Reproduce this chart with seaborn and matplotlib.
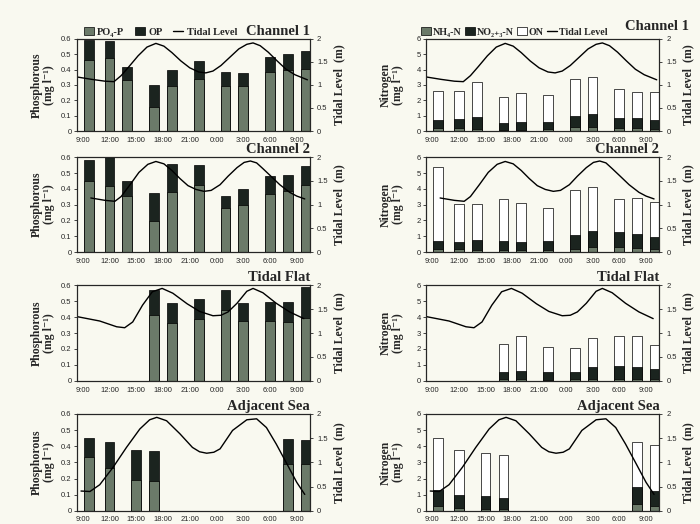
import numpy as np
import matplotlib
matplotlib.use("Agg")
import matplotlib.pyplot as plt
import seaborn as sns
from matplotlib.patches import Patch
from matplotlib.lines import Line2D
from matplotlib.font_manager import FontProperties

# ---------------- data ----------------
# hours: 9 = 09:00 on day 1, 33 = 09:00 on day 2
tick_hours = [9, 12, 15, 18, 21, 24, 27, 30, 33]
tick_labels = ["9:00", "12:00", "15:00", "18:00", "21:00", "0:00", "3:00", "6:00", "9:00"]

hours_channel = [9.7, 12, 14, 17, 19, 22, 25, 27, 30, 32, 34]
hours_flat = [17, 19, 22, 25, 27, 30, 32, 34]
hours_sea = [9.7, 12, 15, 17, 32, 34]

# Phosphorous (mg/l)
ch1_po4 = [0.465, 0.475, 0.33, 0.153, 0.29, 0.34, 0.29, 0.29, 0.385, 0.40, 0.405]
ch1_op = [0.125, 0.11, 0.085, 0.144, 0.11, 0.115, 0.095, 0.088, 0.095, 0.10, 0.115]
ch2_po4 = [0.45, 0.42, 0.355, 0.196, 0.379, 0.421, 0.277, 0.298, 0.368, 0.387, 0.421]
ch2_op = [0.135, 0.18, 0.095, 0.176, 0.178, 0.128, 0.08, 0.102, 0.112, 0.103, 0.126]
flat_po4 = [0.41, 0.36, 0.385, 0.443, 0.375, 0.375, 0.369, 0.395]
flat_op = [0.156, 0.128, 0.127, 0.127, 0.113, 0.119, 0.125, 0.191]
sea_po4 = [0.333, 0.263, 0.194, 0.185, 0.288, 0.29]
sea_op = [0.12, 0.162, 0.185, 0.183, 0.158, 0.146]

# Nitrogen (mg/l)
ch1_nh4 = [0.17, 0.17, 0.13, 0.06, 0.08, 0.10, 0.27, 0.25, 0.17, 0.17, 0.10]
ch1_no23 = [0.52, 0.59, 0.77, 0.47, 0.51, 0.49, 0.73, 0.85, 0.67, 0.67, 0.64]
ch1_on = [1.94, 1.83, 2.30, 1.68, 1.85, 1.75, 2.37, 2.40, 1.90, 1.71, 1.81]
ch2_nh4 = [0.21, 0.17, 0.15, 0.10, 0.10, 0.10, 0.21, 0.32, 0.32, 0.27, 0.21]
ch2_no23 = [0.46, 0.46, 0.59, 0.57, 0.53, 0.59, 0.88, 0.98, 0.94, 0.87, 0.72]
ch2_on = [4.70, 2.42, 2.31, 2.66, 2.49, 2.11, 2.85, 2.80, 2.11, 2.31, 2.23]
flat_nh4 = [0.10, 0.10, 0.06, 0.15, 0.15, 0.10, 0.10, 0.15]
flat_no23 = [0.43, 0.54, 0.51, 0.38, 0.70, 0.86, 0.79, 0.59]
flat_on = [1.77, 2.19, 1.56, 1.56, 1.81, 1.87, 1.94, 1.54]
sea_nh4 = [0.31, 0.15, 0.10, 0.10, 0.40, 0.31]
sea_no23 = [0.98, 0.83, 0.82, 0.71, 1.10, 0.92]
sea_on = [3.23, 2.81, 2.66, 2.63, 2.77, 2.83]

# Tidal level (m)
ch1_tide_h = [8.4, 10.0, 11.5, 12.5, 13.3, 14.2, 15.2, 16.2, 17.2, 18.1, 19.0, 20.0, 21.0,
              22.0, 22.8, 23.6, 24.5, 25.5, 26.5, 27.4, 28.1, 28.9, 29.8, 30.8, 31.8, 32.8, 34.2]
ch1_tide = [1.17, 1.12, 1.08, 1.07, 1.20, 1.40, 1.63, 1.82, 1.90, 1.84, 1.70, 1.52, 1.37,
            1.28, 1.26, 1.30, 1.42, 1.60, 1.78, 1.88, 1.91, 1.85, 1.71, 1.52, 1.34, 1.22, 1.11]
ch2_tide_h = [9.9, 11.5, 12.6, 13.3, 14.3, 15.3, 16.3, 17.2, 18.1, 19.0, 19.9, 20.8, 21.7,
              22.6, 23.4, 24.4, 25.3, 26.3, 27.1, 27.8, 28.5, 29.2, 30.1, 31.1, 32.2, 33.0, 33.9]
ch2_tide = [1.14, 1.09, 1.07, 1.17, 1.42, 1.68, 1.85, 1.91, 1.86, 1.72, 1.55, 1.40, 1.32,
            1.28, 1.30, 1.42, 1.60, 1.78, 1.89, 1.92, 1.88, 1.76, 1.60, 1.42, 1.26, 1.18, 1.12]
flat_tide_h = [8.4, 10.9, 12.8, 13.7, 14.6, 15.7, 16.8, 17.9, 19.1, 20.7, 22.1, 23.6, 24.5,
               25.3, 26.3, 27.4, 28.1, 29.2, 30.7, 32.2, 33.8]
flat_tide = [1.34, 1.25, 1.13, 1.11, 1.23, 1.58, 1.86, 1.93, 1.83, 1.61, 1.45, 1.36, 1.37,
             1.44, 1.62, 1.87, 1.93, 1.84, 1.62, 1.44, 1.30]
sea_tide_h = [8.8, 9.8, 10.9, 12.4, 13.9, 15.4, 16.5, 17.3, 18.4, 19.9, 21.3, 22.1, 22.9,
              23.7, 24.4, 25.8, 27.4, 28.5, 29.6, 30.7, 31.9, 33.0, 33.9]
sea_tide = [0.41, 0.40, 0.54, 0.90, 1.31, 1.69, 1.88, 1.93, 1.86, 1.59, 1.31, 1.22, 1.19,
            1.21, 1.28, 1.66, 1.88, 1.90, 1.72, 1.38, 0.97, 0.59, 0.34]

# ---------------- style ----------------
sns.set_style("white")
SERIF = ["Liberation Serif", "DejaVu Serif"]
SANS = ["Liberation Sans", "DejaVu Sans"]
plt.rcParams["font.family"] = SANS
PAPER = "#f9f9f0"
C_LIGHT = "#6b7a69"
C_DARK = "#1b241f"
C_WHITE = "#ffffff"
BAR_W = 1.1
XLIM = (8.35, 34.5)

fig = plt.figure(figsize=(7.0, 5.24), dpi=100, facecolor=PAPER)

col_left = [0.110, 0.609]
col_w = 0.333
rows = [(0.750, 0.176), (0.519, 0.181), (0.273, 0.183), (0.025, 0.185)]
titles = ["Channel 1", "Channel 2", "Tidal Flat", "Adjacent Sea"]

p_sets = [(hours_channel, ch1_po4, ch1_op), (hours_channel, ch2_po4, ch2_op),
          (hours_flat, flat_po4, flat_op), (hours_sea, sea_po4, sea_op)]
n_sets = [(hours_channel, ch1_nh4, ch1_no23, ch1_on), (hours_channel, ch2_nh4, ch2_no23, ch2_on),
          (hours_flat, flat_nh4, flat_no23, flat_on), (hours_sea, sea_nh4, sea_no23, sea_on)]
tides = [(ch1_tide_h, ch1_tide), (ch2_tide_h, ch2_tide), (flat_tide_h, flat_tide), (sea_tide_h, sea_tide)]


def bar_layer(ax, x, y, color):
    diffs = np.diff(sorted(x))
    w = BAR_W / diffs.min()
    sns.barplot(x=x, y=list(y), native_scale=True, width=w, color=color, saturation=1,
                edgecolor="black", linewidth=0.5, errorbar=None, ax=ax)


def panel(ax, layers, colors, ymax, yticks, ylabels, ylab, tide, title, title_xy):
    ax.set_facecolor(PAPER)
    x = layers[0]
    comps = layers[1:]
    cum = np.cumsum(np.array(comps, dtype=float), axis=0)
    # draw from top of stack down so lower parts overlay
    for k in range(len(comps) - 1, -1, -1):
        bar_layer(ax, x, cum[k], colors[k])
    ax.set_xlim(*XLIM)
    ax.set_ylim(0, ymax)
    ax.set_yticks(yticks)
    ax.set_yticklabels(ylabels, fontsize=5.5, family=SANS)
    ax.set_xticks(tick_hours)
    ax.set_xticklabels(tick_labels, fontsize=5.5, family=SANS)
    ax.tick_params(axis="x", length=0, pad=4)
    ax.tick_params(axis="y", length=2, width=0.6, pad=2, direction="out")
    ax.set_xlabel("")
    ax.set_ylabel(ylab, fontsize=8.5, fontweight="bold", family=SERIF, linespacing=1.0)
    ax.yaxis.set_label_coords(-0.095, 0.5)
    for s in ax.spines.values():
        s.set_linewidth(0.8)
        s.set_color("black")

    ax2 = ax.twinx()
    sns.lineplot(x=tide[0], y=tide[1], ax=ax2, color="black", linewidth=1.0)
    ax2.set_xlim(*XLIM)
    ax2.set_ylim(0, 2)
    ax2.set_yticks([0, 0.5, 1, 1.5, 2])
    ax2.set_yticklabels(["0", "0.5", "1", "1.5", "2"], fontsize=5.5, family=SANS)
    ax2.tick_params(axis="y", length=2, width=0.6, pad=3, direction="out")
    ax2.set_ylabel("Tidal Level  (m)", fontsize=8.5, fontweight="bold", family=SERIF)
    ax2.yaxis.set_label_coords(1.10, 0.5)
    for s in ax2.spines.values():
        s.set_linewidth(0.8)
    ax.text(title_xy[0], title_xy[1], title, transform=ax.transAxes, ha="right", va="bottom",
            fontsize=10.5, fontweight="bold", family=SERIF)
    return ax


for r, (bottom, h) in enumerate(rows):
    axl = fig.add_axes([col_left[0], bottom, col_w, h])
    panel(axl, p_sets[r], [C_LIGHT, C_DARK], 0.6,
          [0, 0.1, 0.2, 0.3, 0.4, 0.5, 0.6], ["0", "0.1", "0.2", "0.3", "0.4", "0.5", "0.6"],
          "Phosphorous\n(mg l\u207b\u00b9)", tides[r], titles[r], (1.0, 1.01))
    axr = fig.add_axes([col_left[1], bottom, col_w, h])
    panel(axr, n_sets[r], [C_LIGHT, C_DARK, C_WHITE], 6,
          [0, 1, 2, 3, 4, 5, 6], ["0", "1", "2", "3", "4", "5", "6"],
          "Nitrogen\n(mg l\u207b\u00b9)", tides[r], titles[r],
          (1.128, 1.06) if r == 0 else (1.0, 1.01))
    if r == 0:
        fp = FontProperties(family=SERIF, weight="bold", size=7.5)
        fpn = FontProperties(family=SERIF, weight="bold", size=7.2)
        hp = [Patch(facecolor=C_LIGHT, edgecolor="black", linewidth=0.5),
              Patch(facecolor=C_DARK, edgecolor="black", linewidth=0.5),
              Line2D([], [], color="black", linewidth=1.0)]
        axl.legend(hp, ["PO\u2084-P", "OP", "Tidal Level"], ncol=3, loc="lower left",
                   bbox_to_anchor=(0.02, 1.0), frameon=False, prop=fp, handlelength=1.0,
                   handleheight=0.8, handletextpad=0.3, columnspacing=1.0, borderpad=0.1,
                   borderaxespad=0.1)
        hn = [Patch(facecolor=C_LIGHT, edgecolor="black", linewidth=0.5),
              Patch(facecolor=C_DARK, edgecolor="black", linewidth=0.5),
              Patch(facecolor=C_WHITE, edgecolor="black", linewidth=0.5),
              Line2D([], [], color="black", linewidth=1.0)]
        axr.legend(hn, ["NH\u2084-N", "NO\u2082\u208a\u2083-N", "ON", "Tidal Level"], ncol=4,
                   loc="lower left", bbox_to_anchor=(-0.03, 1.0), frameon=False, prop=fpn,
                   handlelength=1.0, handleheight=0.8, handletextpad=0.15, columnspacing=0.35,
                   borderpad=0.1, borderaxespad=0.1)

fig.savefig("out.png", dpi=100, facecolor=PAPER)
